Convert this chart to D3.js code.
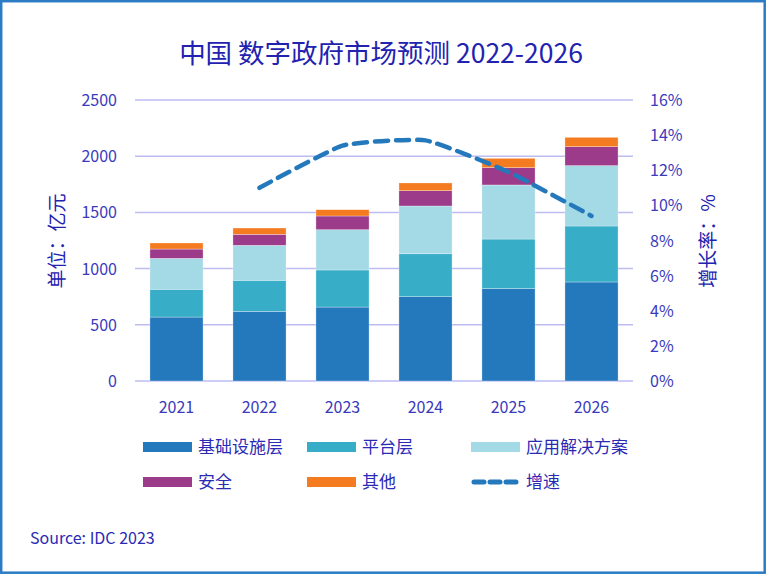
<!DOCTYPE html>
<html>
<head>
<meta charset="utf-8">
<script src="https://cdn.jsdelivr.net/npm/d3@7"></script>
<style>
  body { margin: 0; background: #fff; }
  text { font-family: "Noto Sans CJK SC", "Noto Sans", sans-serif; }
</style>
</head>
<body>
<div id="chart"></div>
<script>
// Data (亿元)
var years = ["2021", "2022", "2023", "2024", "2025", "2026"];
var seriesNames = ["基础设施层", "平台层", "应用解决方案", "安全", "其他"];
var infra    = [569, 620, 658, 750, 822, 881];
var platform = [247, 276, 330, 382, 441, 498];
var apps     = [275, 311, 358, 425, 481, 537];
var security = [83, 98, 122, 136, 154, 169];
var other    = [54, 56, 56, 69, 83, 83];
var growthYears = ["2022", "2023", "2024", "2025", "2026"];
var growth   = [11.0, 13.4, 13.7, 11.9, 9.4];
var leftTicks = [0, 500, 1000, 1500, 2000, 2500];
var rightTicks = [0, 2, 4, 6, 8, 10, 12, 14, 16];

var colors = ["#2479bd", "#37adc8", "#a4dae6", "#9d3b8b", "#f47b20"];
var lineColor = "#2479bd";
var textColor = "#3a3abc";
var gridColor = "#bcbcf2";

const width = 768;
const height = 576;

var svg = d3.select("#chart")
	.append("svg")
	.attr("width", width)
	.attr("height", height);

// outer frame
svg.append("rect")
	.attr("x", 1.2).attr("y", 1.2)
	.attr("width", 763.5).attr("height", 571.5)
	.attr("fill", "#fff")
	.attr("stroke", "#2b7cc4")
	.attr("stroke-width", 2.5);

// title
svg.append("text")
	.attr("x", 381).attr("y", 63)
	.attr("text-anchor", "middle")
	.attr("font-size", 26.5)
	.attr("fill", "#2222b0")
	.attr("xml:space", "preserve")
	.text("中国 数字政府市场预测 2022-2026");

// scales
var x = d3.scaleBand()
	.domain(years)
	.range([135, 633])
	.paddingInner(0.36)
	.paddingOuter(0.18);

var y = d3.scaleLinear()
	.domain([0, 2500])
	.range([381, 100]);

var y2 = d3.scaleLinear()
	.domain([0, 16])
	.range([381, 100]);

// gridlines
svg.append("g")
	.selectAll("line")
	.data(leftTicks)
	.enter().append("line")
	.attr("x1", 135).attr("x2", 633)
	.attr("y1", function(d){ return y(d); })
	.attr("y2", function(d){ return y(d); })
	.attr("stroke", gridColor)
	.attr("stroke-width", 1.5);

// stacked bars
var rows = years.map(function(yr, i){
	return { year: yr, s0: infra[i], s1: platform[i], s2: apps[i], s3: security[i], s4: other[i] };
});
var stack = d3.stack().keys(["s0", "s1", "s2", "s3", "s4"]);
var layers = stack(rows);

svg.append("g")
	.selectAll("g")
	.data(layers)
	.enter().append("g")
	.attr("fill", function(d, i){ return colors[i]; })
	.selectAll("rect")
	.data(function(d){ return d; })
	.enter().append("rect")
	.attr("x", function(d){ return x(d.data.year); })
	.attr("width", x.bandwidth())
	.attr("y", function(d){ return y(d[1]); })
	.attr("height", function(d){ return y(d[0]) - y(d[1]); })
	.attr("stroke", "#fff")
	.attr("stroke-opacity", 0.5)
	.attr("stroke-width", 0.6);

// growth line
var line = d3.line()
	.x(function(d, i){ return x(growthYears[i]) + x.bandwidth() / 2; })
	.y(function(d){ return y2(d); })
	.curve(d3.curveCardinal.tension(0.55));

svg.append("path")
	.datum(growth)
	.attr("d", line)
	.attr("fill", "none")
	.attr("stroke", lineColor)
	.attr("stroke-width", 4.5)
	.attr("stroke-dasharray", "13,8")
	.attr("stroke-linecap", "round");

// left axis labels
svg.append("g")
	.selectAll("text")
	.data(leftTicks)
	.enter().append("text")
	.attr("x", 117)
	.attr("y", function(d){ return y(d) + 6; })
	.attr("text-anchor", "end")
	.attr("font-size", 16)
	.attr("fill", textColor)
	.text(function(d){ return d; });

// right axis labels
svg.append("g")
	.selectAll("text")
	.data(rightTicks)
	.enter().append("text")
	.attr("x", 650)
	.attr("y", function(d){ return y2(d) + 6; })
	.attr("font-size", 16)
	.attr("fill", textColor)
	.text(function(d){ return d + "%"; });

// x axis labels
svg.append("g")
	.selectAll("text")
	.data(years)
	.enter().append("text")
	.attr("x", function(d){ return x(d) + x.bandwidth() / 2; })
	.attr("y", 413)
	.attr("text-anchor", "middle")
	.attr("font-size", 16)
	.attr("fill", textColor)
	.text(function(d){ return d; });

// axis titles
svg.append("text")
	.attr("transform", "translate(64,241) rotate(-90)")
	.attr("text-anchor", "middle")
	.attr("font-size", 19)
	.attr("fill", "#2222b0")
	.text("单位：亿元");

svg.append("text")
	.attr("transform", "translate(715,241) rotate(-90)")
	.attr("text-anchor", "middle")
	.attr("font-size", 19)
	.attr("fill", "#2222b0")
	.text("增长率：%");

// legend
var legendItems = seriesNames.map(function(n, i){ return { name: n, color: colors[i], type: "rect" }; });
legendItems.push({ name: "增速", color: lineColor, type: "line" });
var legendX = [143, 307, 471];
var legendY = [447, 482];

var legend = svg.append("g")
	.selectAll("g")
	.data(legendItems)
	.enter().append("g")
	.attr("transform", function(d, i){
		return "translate(" + legendX[i % 3] + "," + legendY[Math.floor(i / 3)] + ")";
	});

legend.filter(function(d){ return d.type === "rect"; })
	.append("rect")
	.attr("x", 0).attr("y", -5)
	.attr("width", 49).attr("height", 10)
	.attr("fill", function(d){ return d.color; });

legend.filter(function(d){ return d.type === "line"; })
	.append("line")
	.attr("x1", 3).attr("x2", 47)
	.attr("y1", 0).attr("y2", 0)
	.attr("stroke", function(d){ return d.color; })
	.attr("stroke-width", 5)
	.attr("stroke-dasharray", "10,6")
	.attr("stroke-linecap", "round");

legend.append("text")
	.attr("x", 55)
	.attr("y", 6)
	.attr("font-size", 17)
	.attr("fill", "#2a2ab4")
	.text(function(d){ return d.name; });

// source
svg.append("text")
	.attr("x", 30)
	.attr("y", 544)
	.attr("font-size", 16)
	.attr("fill", "#2a2ab4")
	.text("Source: IDC 2023");
</script>
</body>
</html>
